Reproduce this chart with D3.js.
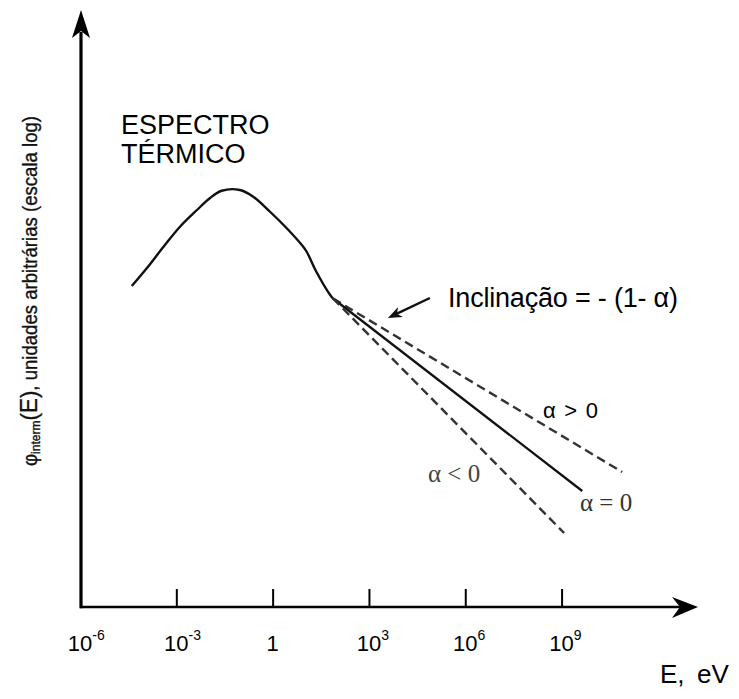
<!DOCTYPE html>
<html>
<head>
<meta charset="utf-8">
<script src="https://cdn.jsdelivr.net/npm/d3@7"></script>
<style>
  html, body { margin: 0; padding: 0; background: #fff; }
  svg { display: block; font-family: "Liberation Sans", Arial, sans-serif; }
</style>
</head>
<body>
<svg id="chart" width="739" height="699"></svg>
<script>
// Energy axis ticks (eV, decades)
const tickValues = [1e-6, 1e-3, 1, 1e3, 1e6, 1e9];
const tickBase   = ["10", "10", "1", "10", "10", "10"];
const tickExp    = ["-6", "-3", "", "3", "6", "9"];

// Thermal spectrum: energy (eV) and log10 of flux (arbitrary units)
const thermalE      = [4.1e-5, 1.2e-4, 4.0e-4, 1.3e-3, 4.4e-3, 1.1e-2, 2.6e-2, 9.5e-2,
                       0.25, 0.83, 2.75, 8.1, 11.5, 23, 62, 76];
const thermalLogPhi = [12.84, 13.55, 14.41, 15.21, 15.88, 16.35, 16.65, 16.68,
                       16.41, 15.81, 15.15, 14.48, 14.21, 13.41, 12.48, 12.34];

// Intermediate (slowing-down) tails, slope -(1 - alpha) on log-log axes
const tailNames     = ["α > 0", "α = 0", "α < 0"];
const tailStartE    = 76;
const tailStartLog  = 12.34;
const tailEndE      = [7.7e10, 4.4e9, 1.2e9];
const tailEndLogPhi = [5.40, 4.64, 2.96];

const svg = d3.select("#chart");

const x = d3.scaleLog().domain([1e-6, 1e13]).range([80, 690]);
const y = d3.scaleLinear().domain([0, 24]).range([607, 7]);

const x0 = x(1e-6);   // vertical axis position
const yBase = y(0);   // horizontal axis position

// ---- axes ----
const axisG = svg.append("g");

// tick marks pointing up from the energy axis
const ax = d3.axisBottom(x)
  .tickValues(tickValues.slice(1))
  .tickSize(-18)
  .tickFormat(() => "");
const axG = axisG.append("g").attr("transform", `translate(0,${yBase})`).call(ax);
axG.select(".domain").remove();
axG.selectAll(".tick line").attr("stroke", "#000").attr("stroke-width", 2);

// axis lines
axisG.append("line")
  .attr("x1", x0).attr("x2", 688).attr("y1", yBase).attr("y2", yBase)
  .attr("stroke", "#000").attr("stroke-width", 2.6);
axisG.append("line")
  .attr("x1", x0 + 1).attr("x2", x0 + 1).attr("y1", yBase + 1.3).attr("y2", 32)
  .attr("stroke", "#000").attr("stroke-width", 3.2);

// arrowheads
const tipY = [x0 + 1, 10];
axisG.append("path")
  .attr("d", `M${tipY[0]},${tipY[1]} L${tipY[0] + 9},${tipY[1] + 28} L${tipY[0]},${tipY[1] + 21} L${tipY[0] - 9},${tipY[1] + 28} Z`)
  .attr("fill", "#000");
const tipX = [698, yBase];
axisG.append("path")
  .attr("d", `M${tipX[0]},${tipX[1]} L${tipX[0] - 26},${tipX[1] - 10} L${tipX[0] - 18},${tipX[1]} L${tipX[0] - 26},${tipX[1] + 11} Z`)
  .attr("fill", "#000");

// tick labels with superscript exponents
const lbl = svg.append("g").attr("font-size", 22).attr("fill", "#000");
tickValues.forEach((v, i) => {
  const t = lbl.append("text")
    .attr("x", x(v))
    .attr("y", 651);
  t.append("tspan").text(tickBase[i]);
  if (tickExp[i]) {
    t.append("tspan").attr("font-size", 14).attr("dy", -11).text(tickExp[i]);
  }
  // centre the base number on the tick
  const baseW = t.select("tspan").node().getComputedTextLength();
  t.attr("x", x(v) - baseW / 2);
});

// axis titles
const eTitle = svg.append("text").attr("y", 683).attr("font-size", 26);
eTitle.append("tspan").attr("x", 660).text("E,");
eTitle.append("tspan").attr("x", 697).text("eV");

const yTitle = svg.append("text")
  .attr("transform", "translate(37,466) rotate(-90)")
  .attr("font-size", 20).attr("fill", "#111")
  .attr("stroke", "#111").attr("stroke-width", 0.35)
  .attr("textLength", 350).attr("lengthAdjust", "spacingAndGlyphs");
yTitle.append("tspan").text("φ");
yTitle.append("tspan").attr("font-size", 13).attr("dy", 3).text("interm");
yTitle.append("tspan").attr("font-size", 24).attr("dy", -3).text("(E)");
yTitle.append("tspan").text(", unidades arbitrárias (escala log)");

// ---- curves ----
const line = d3.line()
  .x(d => x(d[0]))
  .y(d => y(d[1]))
  .curve(d3.curveCatmullRom.alpha(0.5));

const thermal = thermalE.map((e, i) => [e, thermalLogPhi[i]]);
svg.append("path")
  .attr("d", line(thermal))
  .attr("fill", "none")
  .attr("stroke", "#111")
  .attr("stroke-width", 2.4)
  .attr("stroke-linejoin", "round");

const straight = d3.line().x(d => x(d[0])).y(d => y(d[1]));
tailNames.forEach((name, i) => {
  const pts = [[tailStartE, tailStartLog], [tailEndE[i], tailEndLogPhi[i]]];
  const isRef = name === "α = 0";
  svg.append("path")
    .attr("d", straight(pts))
    .attr("fill", "none")
    .attr("stroke", isRef ? "#111" : "#333")
    .attr("stroke-width", isRef ? 2.3 : 2.4)
    .attr("stroke-dasharray", isRef ? null : "9,5");
});

// ---- annotations ----
svg.append("text").attr("x", 121).attr("y", 134).attr("font-size", 27).text("ESPECTRO");
svg.append("text").attr("x", 121).attr("y", 163).attr("font-size", 27).text("TÉRMICO");

svg.append("text").attr("x", 448).attr("y", 307).attr("font-size", 27)
  .attr("textLength", 230).attr("lengthAdjust", "spacing")
  .text("Inclinação = - (1- α)");

// pointer arrow towards the tails
const aFrom = [x(7.9e4), y(12.36)];
const aTo = [x(3.9e3), y(11.56)];
const ang = Math.atan2(aFrom[1] - aTo[1], aFrom[0] - aTo[0]);
const hp = (len, da) => [aTo[0] + len * Math.cos(ang + da), aTo[1] + len * Math.sin(ang + da)];
const b1 = hp(15, 0.38), b2 = hp(15, -0.38), bm = hp(10, 0);
svg.append("line")
  .attr("x1", aFrom[0]).attr("y1", aFrom[1]).attr("x2", bm[0]).attr("y2", bm[1])
  .attr("stroke", "#111").attr("stroke-width", 2.4);
svg.append("path")
  .attr("d", `M${aTo[0]},${aTo[1]} L${b1[0]},${b1[1]} L${bm[0]},${bm[1]} L${b2[0]},${b2[1]} Z`)
  .attr("fill", "#111");

svg.append("text").attr("x", 543).attr("y", 418).attr("font-size", 22)
  .attr("textLength", 55).attr("lengthAdjust", "spacing")
  .text(tailNames[0]);
svg.append("text").attr("x", 580).attr("y", 511).attr("font-size", 25)
  .attr("font-family", "'Liberation Serif', 'Times New Roman', serif")
  .attr("fill", "#333")
  .text(tailNames[1]);
svg.append("text").attr("x", 428).attr("y", 482).attr("font-size", 25)
  .attr("font-family", "'Liberation Serif', 'Times New Roman', serif")
  .attr("fill", "#444")
  .text(tailNames[2]);
</script>
</body>
</html>
